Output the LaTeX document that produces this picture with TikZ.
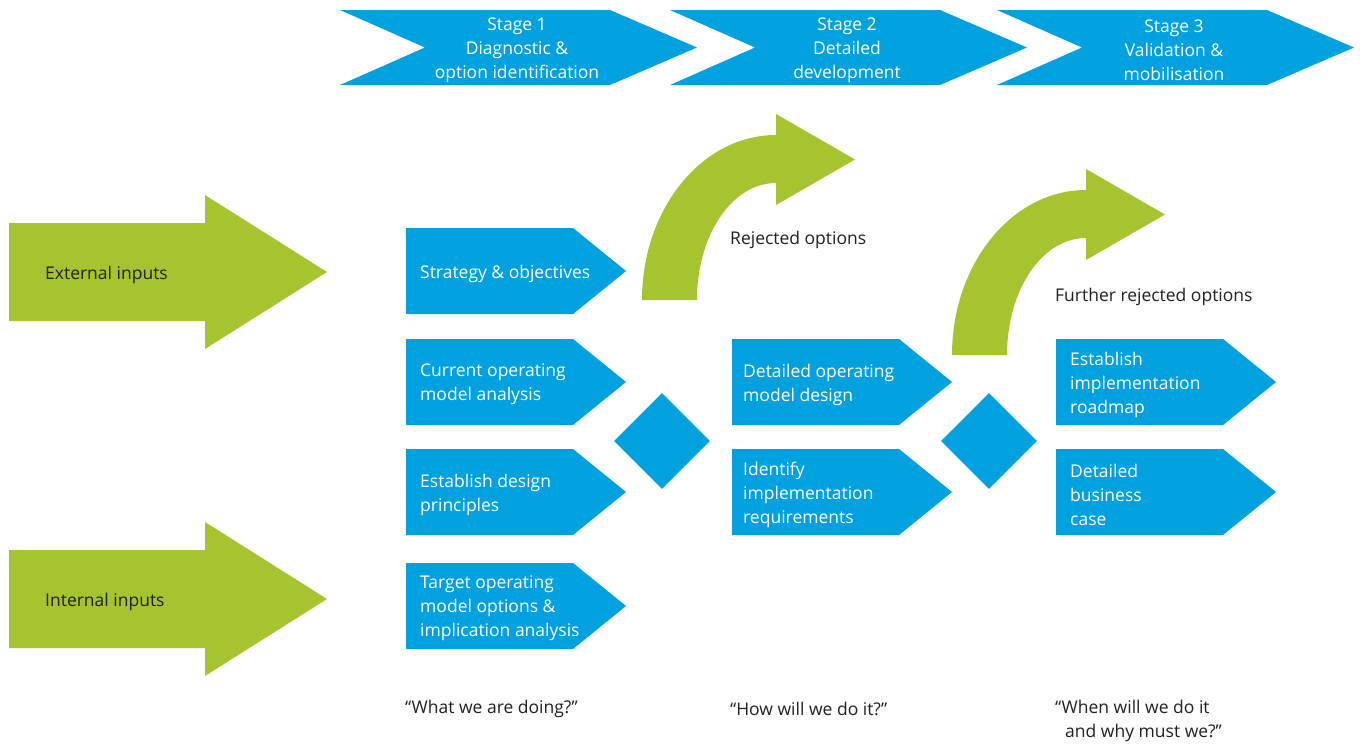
\documentclass[tikz,border=0pt]{standalone}
\usepackage{fontspec}
\setmainfont{Open Sans}
\usetikzlibrary{shapes.geometric, calc, positioning}
\definecolor{stageBlue}{RGB}{0,161,222}
\definecolor{inputGreen}{RGB}{166,196,48}
\definecolor{labelGray}{RGB}{35,31,32}
\tikzset{
    stageText/.style={font={\fontsize{17.5}{24}\selectfont}, text=white, align=center, inner sep=0pt, yshift=-2.5pt},
    boxText/.style={font={\fontsize{17.5}{24}\selectfont}, text=white, align=left, anchor=west, inner sep=0pt, yshift=-2.5pt},
    plainText/.style={font={\fontsize{17.5}{24}\selectfont}, text=labelGray, align=left, anchor=west, inner sep=0pt, yshift=-2.5pt},
    gate/.style={diamond, fill=stageBlue, inner sep=0pt, minimum size=96pt},
}
\newcommand{\drawStage}[3]{
    \fill[stageBlue] (#2,10) -- ++(270,0) -- ++(87,37.5) -- ++(-87,37.5) -- ++(-270,0) -- ++(85,-37.5) -- cycle;
    \node[stageText] (#1) at ({#2+177},47.5) {#3};
}
\newcommand{\drawBox}[5][14]{
    \fill[stageBlue] (#3,#4) -- ++(167,0) -- ++(53,43) -- ++(-53,43) -- ++(-167,0) -- cycle;
    \node[boxText] (#2) at ({#3+#1},{#4+43}) {#5};
}
\newcommand{\drawInput}[3]{
    \fill[inputGreen] (9,#2) -- ++(196,0) -- ++(0,-28) -- ++(122,77) -- ++(-122,77) -- ++(0,-28) -- ++(-196,0) -- cycle;
    \node[plainText] (#1) at (45,{#2+49}) {#3};
}
\newcommand{\drawReject}[2]{
    \fill[inputGreen, shift={(#1,#2)}] (642,300) .. controls (642,209) and (702,135) .. (776,135) -- (776,114) -- (855,159.5) -- (776,205) -- (776,183) .. controls (732,183) and (697,235) .. (697,300) -- cycle;
}

\begin{document}
\begin{tikzpicture}[x=1pt, y=-1pt]

        \fill[white] (0,0) rectangle (1360,744);

        \drawStage{stageA}{340}{Stage 1\\Diagnostic \&\\option identification}
        \drawStage{stageB}{670}{Stage 2\\Detailed\\development}
        \drawStage{stageC}{997}{Stage 3\\Validation \&\\mobilisation}

        \drawInput{extIn}{223}{External inputs}
        \drawInput{intIn}{550}{Internal inputs}

        \drawReject{0}{0}
        \drawReject{310}{55}
        \node[plainText] (rejA) at (730,237) {Rejected options};
        \node[plainText] (rejB) at (1055,294) {Further rejected options};

        \drawBox{strategy}{406}{228}{Strategy \& objectives}
        \drawBox{current}{406}{339}{Current operating\\model analysis}
        \drawBox{principles}{406}{449}{Establish design\\principles}
        \drawBox{target}{406}{563}{Target operating\\model options \&\\implication analysis}

        \drawBox[11]{detailed}{732}{339}{Detailed operating\\model design}
        \drawBox[11]{identify}{732}{449}{Identify\\implementation\\requirements}

        \drawBox{roadmap}{1056}{339}{Establish\\implementation\\roadmap}
        \drawBox{business}{1056}{449}{Detailed\\business\\case}

        \node[gate] (gateA) at (662,441) {};
        \node[gate] (gateB) at (989,441) {};

        \node[plainText] (askA) at (405,706) {“What we are doing?”};
        \node[plainText] (askB) at (730,706) {“How will we do it?”};
        \node[plainText, anchor=north west] (askC) at (1055,697) {“When will we do it\\\hspace*{10pt}and why must we?”};

    \end{tikzpicture}
\end{document}
